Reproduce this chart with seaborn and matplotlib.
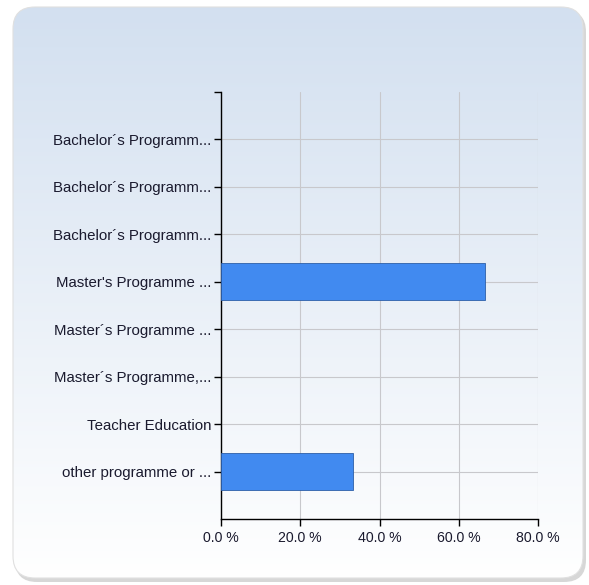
import numpy as np
import pandas as pd
import seaborn as sns
import matplotlib.pyplot as plt
from matplotlib.patches import FancyBboxPatch

categories = [
    "Bachelor´s Programm...",
    "Bachelor´s Programm...",
    "Bachelor´s Programm...",
    "Master's Programme ...",
    "Master´s Programme ...",
    "Master´s Programme,...",
    "Teacher Education",
    "other programme or ...",
]
values = [0.0, 0.0, 0.0, 66.7, 0.0, 0.0, 0.0, 33.3]
x_ticks = [0, 20, 40, 60, 80]
x_labels = ["0.0 %", "20.0 %", "40.0 %", "60.0 %", "80.0 %"]

sns.set_theme(style="white")
plt.rcParams['font.family'] = ['Liberation Sans', 'DejaVu Sans']

W, H = 589, 585
fig = plt.figure(figsize=(W / 100, H / 100), dpi=100)
fig.patch.set_facecolor("white")

# panel background: rounded box with a vertical gradient
bg = fig.add_axes([0, 0, 1, 1])
bg.set_xlim(0, W)
bg.set_ylim(H, 0)
bg.axis("off")
shadow = FancyBboxPatch((15, 10), 571, 572, boxstyle="round,pad=0,rounding_size=22",
                        fc="#bdbdbd", ec="none", alpha=0.6)
bg.add_patch(shadow)
panel = FancyBboxPatch((13, 7), 570, 571, boxstyle="round,pad=0,rounding_size=22",
                       fc="none", ec="#e0e0e0", lw=0.8)
bg.add_patch(panel)
grad = np.linspace(0, 1, 256).reshape(-1, 1)
c_top = np.array([0.827, 0.878, 0.941])
c_bot = np.array([1.0, 1.0, 1.0])
img = c_top + (c_bot - c_top) * grad[..., None]
im = bg.imshow(img, extent=(13, 583, 578, 7), aspect="auto", zorder=1)
im.set_clip_path(panel)
panel.set_zorder(2)

# plot area
left, right, top, bottom = 221, 538, 92, 519
ax = fig.add_axes([left / W, 1 - bottom / H, (right - left) / W, (bottom - top) / H])
ax.patch.set_alpha(0)

df = pd.DataFrame({"programme": range(len(categories)), "share": values})
sns.barplot(data=df, x="share", y="programme", orient="h", color="#418af0",
            edgecolor="#2d5fa8", linewidth=0.6, width=0.78, saturation=1,
            ax=ax, zorder=3)
for p in ax.patches:
    if p.get_width() == 0:
        p.set_linewidth(0)

ax.set_xlim(0, 80)
ax.set_ylim(len(categories), -1)
ax.set_xticks(x_ticks)
ax.set_xticklabels(x_labels)
ax.set_yticks(range(len(categories)))
ax.set_yticklabels(categories)
ax.set_yticks([-1], minor=True)
ax.set_xlabel("")
ax.set_ylabel("")

ax.grid(True, which="major", color="#c8c8cc", lw=0.8, zorder=0)
ax.set_axisbelow(True)
for s in ["top", "right"]:
    ax.spines[s].set_visible(False)
for s in ["left", "bottom"]:
    ax.spines[s].set_color("black")
    ax.spines[s].set_linewidth(1.0)

ax.tick_params(axis="both", which="both", length=5, width=1, color="black",
               labelcolor="#1a1a2e", left=True, bottom=True)
ax.tick_params(axis="y", labelsize=10.8, pad=2)
ax.tick_params(axis="x", labelsize=10.2, pad=4)

fig.savefig("out.png", dpi=100)
